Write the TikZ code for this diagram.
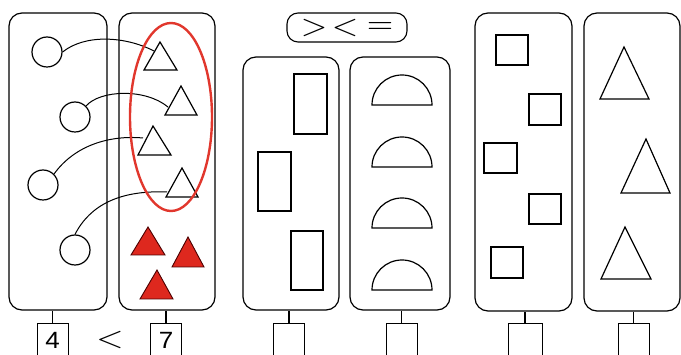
\documentclass[tikz,border=0pt]{standalone}
\usepackage{fontspec}
\setmainfont{Liberation Sans}
\usepackage{graphicx}
\definecolor{redfill}{RGB}{222,40,30}
\definecolor{redline}{RGB}{225,55,45}
\begin{document}
\begin{tikzpicture}[x=1pt,y=-1pt,
  line width=1.2pt,
  panel/.style={draw, rounded corners=13pt, inner sep=0pt, line width=1.2pt},
  numbox/.style={draw, inner sep=0pt, line width=1pt, minimum width=31pt, minimum height=40pt, anchor=north},
  digit/.style={inner sep=0pt},
  rel/.style={inner sep=0pt},
  ring/.style={draw, circle, minimum size=30pt, inner sep=0pt},
  tri/.style={draw, line join=miter},
  redtri/.style={draw=black!70!red, fill=redfill, line width=0.9pt},
  link/.style={line width=1pt}
]
\useasboundingbox (0,0) rectangle (681,355);
\clip (0,0) rectangle (681,355);

% panels
\node[panel, minimum width=98pt, minimum height=297pt] (p1) at (58,161.5) {};
\node[panel, minimum width=96pt, minimum height=297pt] (p2) at (167,161.5) {};
\node[panel, minimum width=96pt, minimum height=253pt] (p3) at (291,183.5) {};
\node[panel, minimum width=100pt, minimum height=253pt] (p4) at (400,183.5) {};
\node[panel, minimum width=97pt, minimum height=298pt] (p5) at (523.5,162) {};
\node[panel, minimum width=96pt, minimum height=298pt] (p6) at (632,162) {};

% number boxes and stems
\node[numbox] (b1) at (52.5,323) {};
\node[numbox] (b2) at (166,323) {};
\node[numbox] (b3) at (289,323) {};
\node[numbox] (b4) at (401.5,323) {};
\node[numbox, minimum width=34pt] (b5) at (525,323) {};
\node[numbox] (b6) at (633.5,323) {};
\foreach \b/\p in {b1/p1,b2/p2,b3/p3,b4/p4,b5/p5,b6/p6}
  \draw (\b.north) -- (\b.north |- \p.south);
\node[digit] (n4) at (52.5,340) {\scalebox{2.6}[2.35]{4}};
\node[digit] (n7) at (166,340) {\scalebox{2.6}[2.35]{7}};
\node[rel] (lt) at (110,340) {\scalebox{3.5}[3]{$<$}};

% symbol pill
\node[draw, rounded corners=11pt, minimum width=120pt, minimum height=29pt, inner sep=0pt, line width=1.1pt] (pill) at (347,27.5) {};
\node[rel] (s1) at (314,28.5) {\scalebox{3.4}[3]{$>$}};
\node[rel] (s2) at (345,28.5) {\scalebox{3.4}[3]{$<$}};
\node[rel] (s3) at (380,28.5) {\scalebox{3.4}[3]{$=$}};

% panel 1 circles
\node[ring] (c1) at (47,52) {};
\node[ring] (c2) at (75,117) {};
\node[ring] (c3) at (43,185) {};
\node[ring] (c4) at (75,250) {};

% panel 2 white triangles
\draw[tri] (160,42) -- (177,70) -- (144,70) -- cycle;
\draw[tri] (181,86) -- (197,115) -- (165,115) -- cycle;
\draw[tri] (153,126) -- (171,155) -- (138,155) -- cycle;
\draw[tri] (182,168) -- (198,197) -- (166,197) -- cycle;
\coordinate (t1) at (154,51);
\coordinate (t2) at (168,107);
\coordinate (t3) at (143,138);
\coordinate (t4) at (167,192);

% connecting curves
\draw[link] (c1.east) .. controls (85,34) and (125,36) .. (t1);
\draw[link] (c2.north east) .. controls (100,90) and (145,88) .. (t2);
\draw[link] (c3.north east) .. controls (75,145) and (110,135) .. (t3);
\draw[link] (c4.north) .. controls (90,205) and (120,190) .. (t4);

% red ellipse
\draw[redline, line width=2.4pt] (171,117) ellipse [x radius=41, y radius=94];

% red triangles
\draw[redtri] (148,227) -- (165,255) -- (131,255) -- cycle;
\draw[redtri] (188,237) -- (204,267) -- (172,267) -- cycle;
\draw[redtri] (157,270) -- (173,299) -- (140,299) -- cycle;

% panel 3 rectangles
\draw (294,74) rectangle (327,134);
\draw (258,152) rectangle (291,211);
\draw (291,231) rectangle (323,290);

% panel 4 half discs
\foreach \yb in {105,167,228,290}
  \draw (372,\yb) arc[start angle=180, end angle=360, radius=30] -- cycle;

% panel 5 squares
\draw (496,35) rectangle (528,65);
\draw (529,94) rectangle (561,125);
\draw (484,143) rectangle (517,173);
\draw (529,194) rectangle (561,224);
\draw (491,247) rectangle (523,278);

% panel 6 triangles
\draw[tri] (624,47) -- (649,99) -- (600,99) -- cycle;
\draw[tri] (646,139) -- (670,193) -- (621,193) -- cycle;
\draw[tri] (625,227) -- (651,279) -- (601,279) -- cycle;
\end{tikzpicture}
\end{document}
